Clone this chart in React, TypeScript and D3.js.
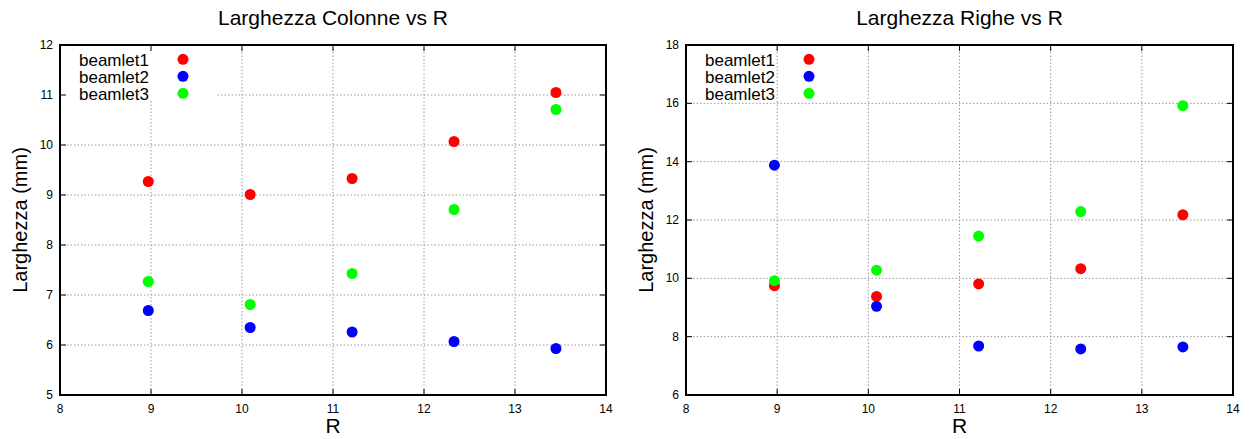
import React from "react";
import * as d3 from "d3";

// ---- data ----
const rValues = [8.97, 10.09, 11.21, 12.33, 13.45];

const colonneBeamlet1 = [9.27, 9.01, 9.33, 10.07, 11.05];
const colonneBeamlet2 = [6.69, 6.35, 6.26, 6.07, 5.93];
const colonneBeamlet3 = [7.27, 6.81, 7.43, 8.71, 10.71];

const righeBeamlet1 = [9.75, 9.38, 9.81, 10.33, 12.18];
const righeBeamlet2 = [13.88, 9.04, 7.68, 7.58, 7.65];
const righeBeamlet3 = [9.92, 10.28, 11.45, 12.29, 15.92];

const seriesNames = ["beamlet1", "beamlet2", "beamlet3"];
const seriesColors = ["#ff0000", "#0000ff", "#00ff00"];

const xTicks = [8, 9, 10, 11, 12, 13, 14];
const yTicksColonne = [5, 6, 7, 8, 9, 10, 11, 12];
const yTicksRighe = [6, 8, 10, 12, 14, 16, 18];

const FONT = "'Liberation Sans', Arial, Helvetica, sans-serif";

type PanelProps = {
  left: number;
  right: number;
  top: number;
  bottom: number;
  title: string;
  yDomain: [number, number];
  yTicks: number[];
  series: number[][];
  legendBox: boolean;
  clipId: string;
};

function Panel({ left, right, top, bottom, title, yDomain, yTicks, series, legendBox, clipId }: PanelProps) {
  const x = d3.scaleLinear().domain([8, 14]).range([left, right]);
  const y = d3.scaleLinear().domain(yDomain).range([bottom, top]);
  const cx = (left + right) / 2;
  const cy = (top + bottom) / 2;
  const tickLen = 6;
  const gridColor = "#9a9a9a";
  return (
    <g>
      <defs>
        <clipPath id={clipId}>
          <rect x={left} y={top} width={right - left} height={bottom - top} />
        </clipPath>
      </defs>
      {/* grid */}
      <g stroke={gridColor} strokeWidth={1} strokeDasharray="1.5,2">
        {xTicks.slice(1, -1).map((t) => (
          <line key={"gx" + t} x1={x(t)} x2={x(t)} y1={top} y2={bottom} />
        ))}
        {yTicks.slice(1, -1).map((t) => (
          <line key={"gy" + t} x1={left} x2={right} y1={y(t)} y2={y(t)} />
        ))}
      </g>
      {legendBox && (
        <rect x={left + 1} y={top + 1} width={156} height={55} fill="#ffffff" />
      )}
      {/* ticks */}
      <g stroke="#000" strokeWidth={1}>
        {xTicks.map((t) => (
          <g key={"tx" + t}>
            <line x1={x(t)} x2={x(t)} y1={bottom} y2={bottom - tickLen} />
            <line x1={x(t)} x2={x(t)} y1={top} y2={top + tickLen} />
          </g>
        ))}
        {yTicks.map((t) => (
          <g key={"ty" + t}>
            <line x1={left} x2={left + tickLen} y1={y(t)} y2={y(t)} />
            <line x1={right} x2={right - tickLen} y1={y(t)} y2={y(t)} />
          </g>
        ))}
      </g>
      {/* tick labels */}
      <g fontFamily={FONT} fontSize={12} fill="#000">
        {xTicks.map((t) => (
          <text key={"lx" + t} x={x(t)} y={bottom + 18} textAnchor="middle">
            {t}
          </text>
        ))}
        {yTicks.map((t) => (
          <text key={"ly" + t} x={left - 7} y={y(t) + 4} textAnchor="end">
            {t}
          </text>
        ))}
      </g>
      {/* points */}
      <g clipPath={`url(#${clipId})`}>
        {series.map((vals, si) =>
          vals.map((v, i) => (
            <circle key={si + "-" + i} cx={x(rValues[i])} cy={y(v)} r={5.5} fill={seriesColors[si]} />
          ))
        )}
      </g>
      {/* legend */}
      <g fontFamily={FONT} fontSize={17} fill="#000">
        {seriesNames.map((n, i) => (
          <g key={n}>
            <text x={left + 19} y={top + 21 + i * 17}>
              {n}
            </text>
            <circle cx={left + 123} cy={top + 14.3 + i * 17} r={5.5} fill={seriesColors[i]} />
          </g>
        ))}
      </g>
      {/* frame */}
      <rect x={left} y={top} width={right - left} height={bottom - top} fill="none" stroke="#000" strokeWidth={2} />
      {/* titles */}
      <text x={cx} y={25} textAnchor="middle" fontFamily={FONT} fontSize={21} fill="#000">
        {title}
      </text>
      <text x={cx} y={bottom + 38} textAnchor="middle" fontFamily={FONT} fontSize={21} fill="#000">
        R
      </text>
      <text
        transform={`translate(${left - 33},${cy}) rotate(-90)`}
        textAnchor="middle"
        fontFamily={FONT}
        fontSize={20}
        fill="#000"
      >
        Larghezza (mm)
      </text>
    </g>
  );
}

export default function App() {
  return (
    <svg
      width={1250}
      height={439}
      style={{ position: "absolute", left: 0, top: 0, background: "#fff" }}
    >
      <rect x={0} y={0} width={1250} height={439} fill="#fff" />
      <Panel
        left={60}
        right={606}
        top={45}
        bottom={395}
        title="Larghezza Colonne vs R"
        yDomain={[5, 12]}
        yTicks={yTicksColonne}
        series={[colonneBeamlet1, colonneBeamlet2, colonneBeamlet3]}
        legendBox={true}
        clipId="clipA"
      />
      <Panel
        left={686}
        right={1233}
        top={45}
        bottom={395}
        title="Larghezza Righe vs R"
        yDomain={[6, 18]}
        yTicks={yTicksRighe}
        series={[righeBeamlet1, righeBeamlet2, righeBeamlet3]}
        legendBox={false}
        clipId="clipB"
      />
    </svg>
  );
}
